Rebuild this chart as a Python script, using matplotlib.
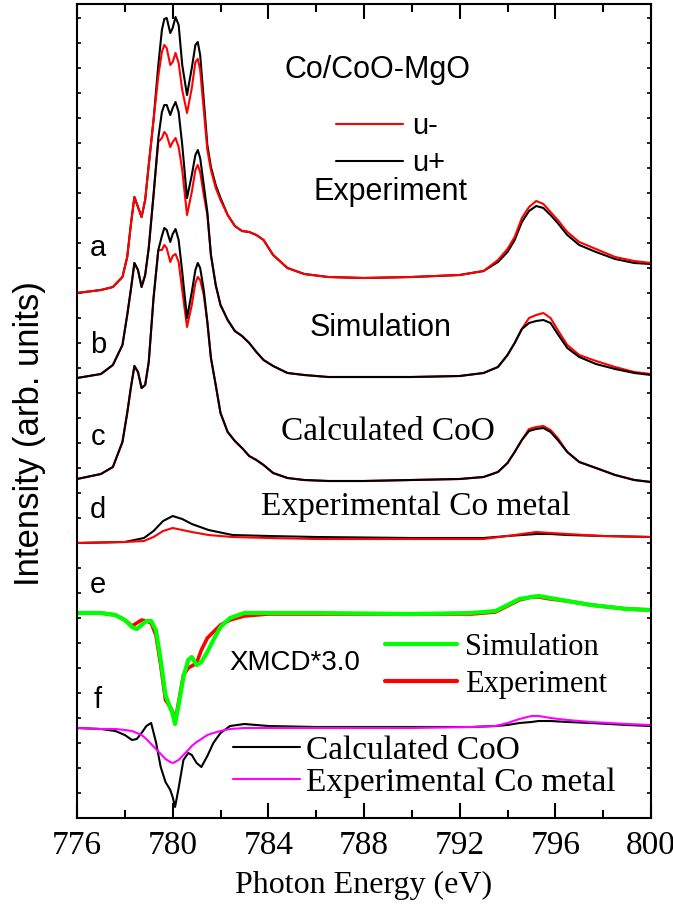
import matplotlib
matplotlib.use('Agg')
import matplotlib.pyplot as plt
import matplotlib.lines as mlines
from matplotlib.ticker import MultipleLocator

SANS = 'Liberation Sans'
SERIF = 'Liberation Serif'
plt.rcParams['lines.solid_joinstyle'] = 'round'
plt.rcParams['lines.solid_capstyle'] = 'round'

# ---- data (arb. units, offsets included) ----
energy_abc = [776.0, 777.0, 777.5, 777.9, 778.1, 778.25, 778.4, 778.55, 778.7, 778.85,
              779.0, 779.2, 779.4, 779.55, 779.65, 779.75, 779.9, 780.0, 780.12, 780.25,
              780.4, 780.6, 780.8, 780.95, 781.05, 781.15, 781.3, 781.45, 781.6, 781.8,
              782.0, 782.3, 782.6, 782.9, 783.2, 783.5, 783.8, 784.2, 784.8, 785.5,
              786.5, 788.0, 790.0, 792.0, 793.0, 793.6, 794.0, 794.3, 794.6, 794.9,
              795.2, 795.5, 795.8, 796.1, 796.5, 797.0, 797.7, 798.5, 799.3, 800.0]

a_minus = [525, 528, 531, 541, 561, 593, 621, 611, 601, 618,
           653, 698, 742, 766, 773, 770, 753, 756, 765, 755,
           728, 705, 730, 756, 759, 748, 708, 668, 648, 630,
           618, 603, 592, 587, 586, 583, 578, 563, 550, 544,
           541, 540, 541, 543, 547, 558, 569, 581, 600, 611,
           617, 614, 606, 598, 586, 576, 569, 561, 557, 555]
a_plus = [525, 528, 531, 541, 561, 593, 621, 611, 601, 618,
          653, 698, 753, 788, 799, 800, 785, 790, 801, 793,
          753, 723, 750, 773, 776, 763, 718, 673, 651, 633,
          620, 603, 592, 587, 586, 583, 578, 563, 550, 544,
          541, 540, 541, 543, 547, 556, 566, 578, 596, 607,
          612, 610, 603, 595, 583, 573, 566, 559, 555, 554]

b_minus = [440, 444, 453, 473, 503, 528, 555, 548, 531, 543,
           570, 623, 676, 680, 686, 683, 671, 676, 680, 671,
           648, 603, 626, 648, 653, 646, 623, 603, 563, 533,
           513, 498, 487, 482, 475, 466, 458, 452, 445, 443,
           441, 441, 441, 442, 445, 451, 463, 475, 489, 500,
           503, 505, 500, 488, 473, 463, 457, 451, 446, 444]
b_plus = [440, 444, 453, 473, 503, 528, 555, 548, 531, 543,
          570, 623, 680, 706, 713, 713, 703, 710, 716, 706,
          673, 620, 643, 663, 668, 660, 633, 606, 563, 533,
          513, 498, 487, 482, 475, 466, 458, 452, 445, 443,
          441, 441, 441, 442, 445, 451, 463, 475, 489, 495,
          497, 498, 495, 484, 470, 461, 454, 449, 445, 443]

c_minus = [339, 344, 351, 376, 405, 430, 452, 446, 430, 433,
           456, 520, 568, 568, 573, 570, 556, 562, 564, 556,
           528, 491, 513, 535, 541, 538, 523, 496, 460, 433,
           405, 386, 377, 370, 362, 358, 353, 345, 340, 338,
           337, 337, 338, 339, 341, 346, 355, 366, 378, 389,
           391, 392, 388, 380, 366, 356, 350, 343, 338, 336]
c_plus = [339, 344, 351, 376, 405, 430, 452, 446, 430, 433,
          456, 520, 568, 582, 590, 588, 576, 584, 589, 578,
          546, 500, 526, 548, 555, 550, 528, 496, 460, 433,
          405, 386, 377, 370, 362, 358, 353, 345, 340, 338,
          337, 337, 338, 339, 341, 346, 355, 366, 378, 387,
          389, 390, 386, 378, 366, 356, 350, 343, 338, 336]

energy_d = [776, 778, 778.8, 779.2, 779.6, 780.0, 780.4, 780.8, 781.5, 782.5,
            784, 786, 790, 793, 794, 794.6, 795.2, 795.8, 796.5, 798, 800]
d_plus = [275, 276, 280, 287, 297, 302, 299, 294, 288, 283,
          282, 281, 280, 280, 282, 283, 284, 284, 283, 282, 281]
d_minus = [275, 276, 277, 281, 287, 290, 288, 286, 283, 281,
           280, 279, 279, 279, 282, 284, 286, 285, 284, 282, 281]

energy_ef = [776, 777, 777.6, 778.0, 778.3, 778.5, 778.7, 778.9, 779.1, 779.3,
             779.5, 779.7, 779.9, 780.0, 780.1, 780.25, 780.45, 780.65, 780.8, 781.0,
             781.2, 781.45, 781.7, 782.0, 782.4, 783.0, 784, 786, 790, 792.5,
             793.5, 794.0, 794.5, 795.0, 795.3, 795.8, 796.5, 797.5, 799, 800]
xmcd_sim = [205, 205, 203, 198, 191, 189, 193, 197, 197, 188,
            158, 123, 110, 104, 94, 113, 141, 158, 161, 153,
            156, 166, 178, 191, 200, 205, 205, 205, 204, 205,
            207, 213, 219, 221, 222, 220, 217, 213, 209, 208]
xmcd_exp = [205, 205, 203, 198, 192, 195, 198, 197, 195, 183,
            153, 118, 111, 106, 96, 116, 143, 150, 152, 155,
            168, 180, 186, 193, 198, 202, 204, 204, 204, 204,
            206, 212, 218, 221, 221, 219, 217, 213, 209, 208]
xmcd_coo = [90, 89, 87, 83, 78, 79, 85, 92, 95, 76,
            51, 36, 28, 21, 11, 30, 58, 65, 63, 55,
            51, 62, 75, 85, 92, 94, 92, 91, 91, 91,
            92, 93, 95, 96, 97, 97, 96, 95, 93, 92]
xmcd_co_metal = [90, 89, 89, 88, 87, 85, 83, 79, 74, 69,
                 64, 59, 56, 55, 56, 58, 63, 68, 72, 76,
                 79, 83, 85, 87, 89, 90, 90, 90, 90, 91,
                 92, 95, 99, 102, 102, 100, 98, 96, 94, 93]

curve_letters = ['a', 'b', 'c', 'd', 'e', 'f']
letter_y = [570, 473, 381, 308, 233, 118]
x_ticks = [776, 780, 784, 788, 792, 796, 800]

# ---- figure ----
fig = plt.figure(figsize=(6.73, 9.15), dpi=100)
ax = fig.add_axes([77 / 673, 97 / 915, 574 / 673, 814 / 915])

lw = 1.5
ax.plot(energy_abc, a_plus, color='black', lw=lw)
ax.plot(energy_abc, a_minus, color='red', lw=lw)
ax.plot(energy_abc, b_minus, color='red', lw=lw)
ax.plot(energy_abc, b_plus, color='black', lw=lw)
ax.plot(energy_abc, c_minus, color='red', lw=lw)
ax.plot(energy_abc, c_plus, color='black', lw=lw)
ax.plot(energy_d, d_plus, color='black', lw=lw)
ax.plot(energy_d, d_minus, color='red', lw=lw)
ax.plot(energy_ef, xmcd_exp, color='red', lw=2.6)
ax.plot(energy_ef, xmcd_sim, color='#00ff00', lw=3.0)
ax.plot(energy_ef, xmcd_coo, color='black', lw=lw)
ax.plot(energy_ef, xmcd_co_metal, color='#ff00ff', lw=lw)

ax.set_xlim(776, 800)
ax.set_ylim(0, 814)
ax.set_xticks(x_ticks)
ax.xaxis.set_minor_locator(MultipleLocator(2))
ax.yaxis.set_major_locator(MultipleLocator(25))
ax.set_yticklabels([])
ax.tick_params(axis='x', which='major', direction='in', length=11, width=1.5,
               top=True, pad=9, labelsize=24)
ax.tick_params(axis='x', which='minor', direction='in', length=6, width=1.5, top=True)
ax.tick_params(axis='y', which='major', direction='in', length=3, width=1.2,
               right=True, labelleft=False)
for lab in ax.get_xticklabels():
    lab.set_fontfamily(SERIF)
for s in ax.spines.values():
    s.set_linewidth(1.5)

ax.set_xlabel('Photon Energy (eV)', fontfamily=SERIF, fontsize=23, labelpad=7)
fig.text(30 / 673, 1 - 434 / 915, 'Intensity (arb. units)', rotation=90,
         ha='center', va='center', fontfamily=SANS, fontsize=25)

# curve letters
for lt, yy in zip(curve_letters, letter_y):
    ax.text(776.88, yy, lt, ha='center', va='center', fontfamily=SANS, fontsize=21)

ax.text(788.57, 748, 'Co/CoO-MgO', ha='center', va='center', fontfamily=SANS, fontsize=22)
ax.text(789.11, 626, 'Experiment', ha='center', va='center', fontfamily=SANS, fontsize=22)
ax.text(788.71, 490, 'Simulation', ha='center', va='center', fontfamily=SANS, fontsize=22)
ax.text(789.0, 386, 'Calculated CoO', ha='center', va='center', fontfamily=SERIF, fontsize=24)
ax.text(790.16, 311, 'Experimental Co metal', ha='center', va='center', fontfamily=SERIF, fontsize=24)
ax.text(785.09, 155, 'XMCD*3.0', ha='center', va='center', fontfamily=SANS, fontsize=20)

# legends
h_um = mlines.Line2D([], [], color='red', lw=lw)
h_up = mlines.Line2D([], [], color='black', lw=lw)
leg1 = ax.legend([h_um, h_up], ['u-', 'u+'], loc='center left',
                 bbox_to_anchor=(0.451, 0.827), frameon=False, borderpad=0,
                 borderaxespad=0, handlelength=2.3, handletextpad=0.33,
                 labelspacing=0.3, prop={'family': SANS, 'size': 21})
ax.add_artist(leg1)

h_sim = mlines.Line2D([], [], color='#00ff00', lw=3.0)
h_exp = mlines.Line2D([], [], color='red', lw=3.0)
leg2 = ax.legend([h_sim, h_exp], ['Simulation', 'Experiment'], loc='center left',
                 bbox_to_anchor=(0.5366, 0.187), frameon=False, borderpad=0,
                 borderaxespad=0, handlelength=2.35, handletextpad=0.26,
                 labelspacing=0.25, prop={'family': SERIF, 'size': 22})
ax.add_artist(leg2)

h_coo = mlines.Line2D([], [], color='black', lw=lw)
h_met = mlines.Line2D([], [], color='#ff00ff', lw=lw)
ax.legend([h_coo, h_met], ['Calculated CoO', 'Experimental Co metal'], loc='center left',
          bbox_to_anchor=(0.272, 0.063), frameon=False, borderpad=0,
          borderaxespad=0, handlelength=2.0, handletextpad=0.2,
          labelspacing=0.05, prop={'family': SERIF, 'size': 24})

fig.savefig('out.png', dpi=100)
